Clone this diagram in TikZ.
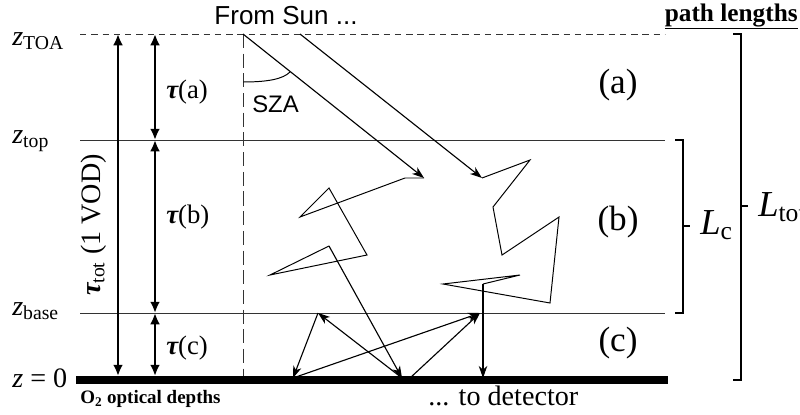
\documentclass[tikz,border=0pt]{standalone}
\usepackage{fontspec}
\setmainfont{Liberation Serif}
\newfontfamily\sunfont{Liberation Sans}
\usetikzlibrary{arrows.meta,calc}

\begin{document}
\begin{tikzpicture}[x=0.025cm, y=-0.025cm,
  every node/.style={inner sep=0pt, font=\fontsize{20}{22}\selectfont},
  layer/.style={draw=black!80, line width=0.7pt},
  depth/.style={line width=1.6pt, {Latex[length=8pt,width=7pt]}-{Latex[length=8pt,width=7pt]}},
  photon/.style={line width=0.8pt, -{Stealth[length=8.5pt,width=6pt,inset=2.5pt]}},
  zig/.style={line width=0.7pt, line join=miter},
  bracket/.style={line width=1.4pt},
  tag/.style={font=\fontsize{25}{27}\selectfont},
  taulab/.style={anchor=base west, font=\fontsize{19}{21}\selectfont}
]
  \useasboundingbox (0,0) rectangle (800,414);

  % layers
  \draw[layer, dash pattern=on 4.5pt off 3.5pt] (80,34) -- (665,34);
  \draw[layer] (80,140) -- (665,140);
  \draw[layer] (80,313) -- (665,313);
  \draw[line width=5.7pt] (76,380) -- (668,380);
  \draw[layer, dash pattern=on 10pt off 4pt] (243,34) -- (243,376);

  \node[anchor=base west] (ztoa)  at (12,45)  {\itshape z\textsubscript{\upshape TOA}};
  \node[anchor=base west] (ztop)  at (12,143) {\itshape z\textsubscript{\upshape top}};
  \node[anchor=base west] (zbase) at (12,315) {\itshape z\textsubscript{\upshape base}};
  \node[anchor=base west] (zzero) at (12,387) {{\itshape z} = 0};

  % optical depths
  \coordinate (tt) at (118,34);
  \coordinate (tb) at (118,376);
  \coordinate (ta) at (155,34);
  \coordinate (tp) at (155,140);
  \coordinate (tq) at (155,313);
  \coordinate (tg) at (155,376);
  \draw[depth] (tt) -- (tb);
  \draw[depth] (ta) -- (tp);
  \draw[depth] (tp) -- (tq);
  \draw[depth] (tq) -- (tg);

  \node[rotate=90, anchor=base] (tautot) at (100,225)
       {{\bfseries\itshape τ}\textsubscript{tot} (1 VOD)};
  \node[taulab] (taua) at (166,98)  {{\bfseries\itshape τ}(a)};
  \node[taulab] (taub) at (166,223) {{\bfseries\itshape τ}(b)};
  \node[taulab] (tauc) at (166,354) {{\bfseries\itshape τ}(c)};

  \node[tag, anchor=base] (la) at (618,93)  {(a)};
  \node[tag, anchor=base] (lb) at (618,230) {(b)};
  \node[tag, anchor=base] (lc) at (618,351) {(c)};

  % sun beams
  \node[anchor=base, font=\sunfont\fontsize{18.5}{20}\selectfont] (sun) at (286,24) {From Sun ...};
  \coordinate (s1) at (243,34);
  \coordinate (s2) at (300,34);
  \coordinate (h1) at (424,178);
  \coordinate (h2) at (482,178);
  \draw[photon] (s1) -- (h1);
  \draw[photon] (s2) -- (h2);
  \draw[line width=0.7pt] (243,82) .. controls (268,82) and (283,79) .. (290,72);
  \node[anchor=base west, font=\sunfont\fontsize{17}{19}\selectfont] (sza) at (252,112) {SZA};

  % scattering in the cloud
  \coordinate (k1) at (329,246);
  \coordinate (k2) at (483,284);
  \draw[zig] (h1) -- (405,178) -- (300,217) -- (329,188) -- (367,255) -- (270,275) -- (k1);
  \draw[zig] (h2) -- (530,160) -- (493,207) -- (502,255) -- (559,217) -- (550,303)
    -- (443,284) -- (520,275) -- (k2);

  % reflections below the cloud
  \coordinate (ga) at (402,378);
  \coordinate (gb) at (293,378);
  \coordinate (gd) at (410,378);
  \coordinate (ge) at (483,378);
  \coordinate (ra) at (318,313);
  \coordinate (re) at (480,313);
  \draw[photon] (k1) -- (ga);
  \draw[photon] (k2) -- (ge);
  \draw[photon] (ga) -- (ra);
  \draw[photon] (ra) -- (gb);
  \draw[photon] (gb) -- (re);
  \draw[photon] (gd) -- (re);

  % path lengths
  \node[anchor=base east, font=\bfseries\fontsize{18}{20}\selectfont] (plen) at (798,21) {\underline{path lengths}};
  \coordinate (c1) at (675,140);
  \coordinate (c2) at (675,313);
  \coordinate (t1) at (733,34);
  \coordinate (t2) at (733,380);
  \draw[bracket] (c1) -- ++(8,0) |- (c2);
  \draw[bracket] (683,226) -- ++(7,0);
  \draw[bracket] (t1) -- ++(8,0) |- (t2);
  \draw[bracket] (741,206) -- ++(7,0);
  \node[anchor=base west, font=\fontsize{26}{28}\selectfont] (lcl) at (700,234) {{\itshape L}\textsubscript{c}};
  \node[anchor=base west, font=\fontsize{26}{28}\selectfont] (ltl) at (758,216) {{\itshape L}\textsubscript{tot}};

  \node[anchor=base west, font=\bfseries\fontsize{13.5}{15}\selectfont] (o2) at (80,403) {O\textsubscript{2} optical depths};
  \node[anchor=base west, font=\fontsize{20}{22}\selectfont] (det) at (428,405) {... to detector};
\end{tikzpicture}
\end{document}
